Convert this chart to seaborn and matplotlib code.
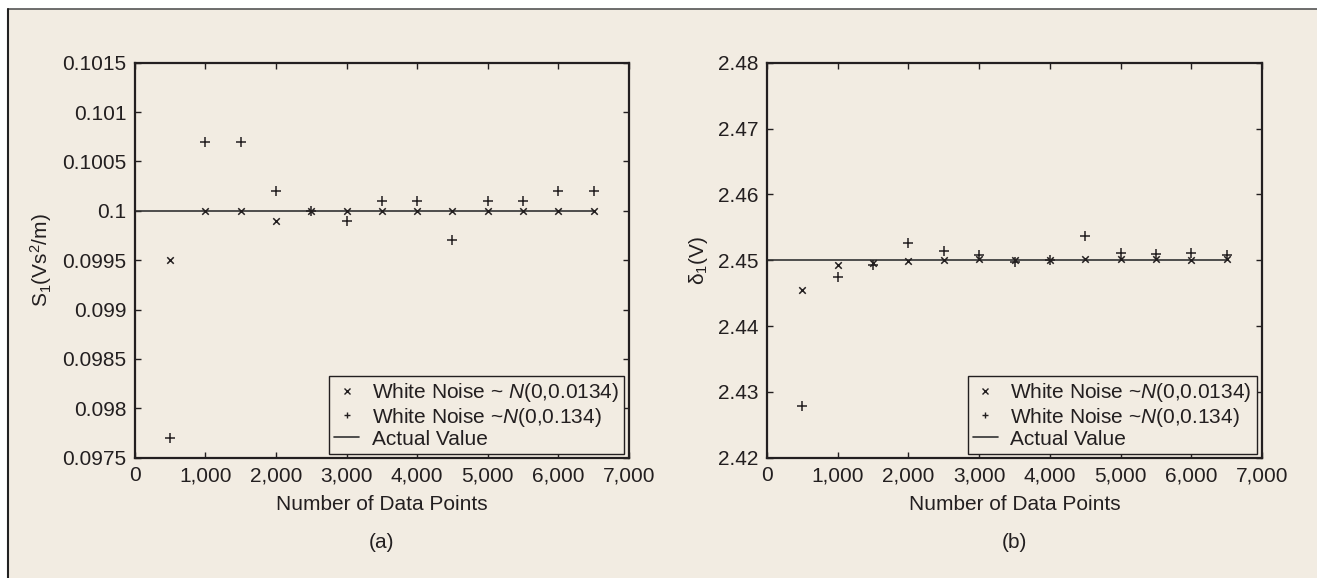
import matplotlib
matplotlib.use('Agg')
import numpy as np
import pandas as pd
import seaborn as sns
import matplotlib.pyplot as plt
from matplotlib.lines import Line2D
from matplotlib.patches import Rectangle

sns.set_theme(style='ticks')
plt.rcParams['font.family'] = ['Liberation Sans', 'DejaVu Sans']
plt.rcParams['mathtext.fontset'] = 'custom'
plt.rcParams['mathtext.rm'] = 'Liberation Sans'
plt.rcParams['mathtext.it'] = 'Liberation Sans:italic'

# data
n_points = [500, 1000, 1500, 2000, 2500, 3000, 3500, 4000, 4500, 5000, 5500, 6000, 6500]
s1_low = [0.0995, 0.1, 0.1, 0.0999, 0.1, 0.1, 0.1, 0.1, 0.1, 0.1, 0.1, 0.1, 0.1]
s1_high = [0.0977, 0.1007, 0.1007, 0.1002, 0.1, 0.0999, 0.1001, 0.1001, 0.0997, 0.1001, 0.1001, 0.1002, 0.1002]
d1_low = [2.4455, 2.4492, 2.4496, 2.4499, 2.4501, 2.4502, 2.45, 2.4501, 2.4502, 2.4502, 2.4502, 2.45, 2.4502]
d1_high = [2.4279, 2.4475, 2.4493, 2.4526, 2.4514, 2.4508, 2.4498, 2.4501, 2.4537, 2.4511, 2.4509, 2.4511, 2.4508]
actual_x = [0, 6500]
s1_actual = 0.1
d1_actual = 2.45

s1_ticks = [0.0975, 0.098, 0.0985, 0.099, 0.0995, 0.1, 0.1005, 0.101, 0.1015]
s1_ticklabels = ['0.0975', '0.098', '0.0985', '0.099', '0.0995', '0.1', '0.1005', '0.101', '0.1015']
d1_ticks = [2.42, 2.43, 2.44, 2.45, 2.46, 2.47, 2.48]
d1_ticklabels = ['2.42', '2.43', '2.44', '2.45', '2.46', '2.47', '2.48']
x_ticks = [0, 1000, 2000, 3000, 4000, 5000, 6000, 7000]
x_ticklabels = ['0', '1,000', '2,000', '3,000', '4,000', '5,000', '6,000', '7,000']

ink = '#231f20'
beige = '#f2ece2'
fs = 15

fig = plt.figure(figsize=(13.17, 5.78), dpi=100, facecolor='white')
fig.patches.append(Rectangle((8 / 1317, 0), 1, 1 - 9 / 578, transform=fig.transFigure,
                             facecolor=beige, edgecolor='none', zorder=-10))
fig.lines.append(Line2D([8 / 1317, 1], [1 - 9 / 578] * 2, transform=fig.transFigure, color='#555555', lw=1.2))
fig.lines.append(Line2D([8 / 1317] * 2, [0, 1 - 9 / 578], transform=fig.transFigure, color='#222222', lw=1.5))

ax1 = fig.add_axes([0.1023, 0.2081, 0.3753, 0.6834])
ax2 = fig.add_axes([0.5824, 0.2081, 0.3759, 0.6834])

panels = [
    (ax1, s1_low, s1_high, s1_actual, s1_ticks, s1_ticklabels, (0.0975, 0.1015),
     'S$_1$(Vs$^2$/m)', ['White Noise ~ $N$(0,0.0134)', 'White Noise ~$N$(0,0.134)'], '(a)'),
    (ax2, d1_low, d1_high, d1_actual, d1_ticks, d1_ticklabels, (2.42, 2.48),
     'δ$_1$(V)', ['White Noise ~$N$(0,0.0134)', 'White Noise ~$N$(0,0.134)'], '(b)'),
]

for ax, low, high, actual, yt, ytl, ylim, ylab, leg_labels, tag in panels:
    ax.set_facecolor(beige)
    df = pd.DataFrame({'n': n_points, 'low': low, 'high': high})
    sns.lineplot(x=actual_x, y=[actual, actual], ax=ax, color='#333333', lw=1.2, zorder=1)
    sns.scatterplot(data=df, x='n', y='low', ax=ax, marker='x', s=22, color=ink, linewidth=1.1, zorder=3)
    sns.scatterplot(data=df, x='n', y='high', ax=ax, marker='+', s=45, color=ink, linewidth=1.1, zorder=3)
    ax.set_xlim(0, 7000)
    ax.set_ylim(*ylim)
    ax.set_xticks(x_ticks)
    ax.set_xticklabels(x_ticklabels, fontsize=fs, color=ink)
    ax.set_yticks(yt)
    ax.set_yticklabels(ytl, fontsize=fs, color=ink)
    ax.tick_params(direction='in', length=4, width=1, top=True, right=True, colors=ink, labelcolor=ink, pad=6)
    for sp in ax.spines.values():
        sp.set_visible(True)
        sp.set_color(ink)
        sp.set_linewidth(1.6)
    ax.set_xlabel('Number of Data Points', fontsize=fs, color=ink, labelpad=7)
    ax.set_ylabel(ylab, fontsize=fs, color=ink, labelpad=6)
    handles = [
        Line2D([], [], ls='none', marker='x', ms=4, mew=1, color=ink),
        Line2D([], [], ls='none', marker='+', ms=5, mew=1, color=ink),
        Line2D([], [], color='#333333', lw=1.2),
    ]
    leg = ax.legend(handles, leg_labels + ['Actual Value'], loc='lower right',
                    bbox_to_anchor=(0.99, 0.01), borderaxespad=0, fontsize=fs,
                    frameon=True, fancybox=False, handlelength=1.2, handletextpad=0.6,
                    labelspacing=0.05, borderpad=0.25, edgecolor=ink, facecolor=beige, framealpha=1)
    leg.get_frame().set_linewidth(1.0)
    for t in leg.get_texts():
        t.set_color(ink)
    pos = ax.get_position()
    fig.text((pos.x0 + pos.x1) / 2, 1 - 543 / 578, tag, ha='center', va='center', fontsize=fs, color=ink)

fig.savefig('out.png', dpi=100, facecolor='white')
